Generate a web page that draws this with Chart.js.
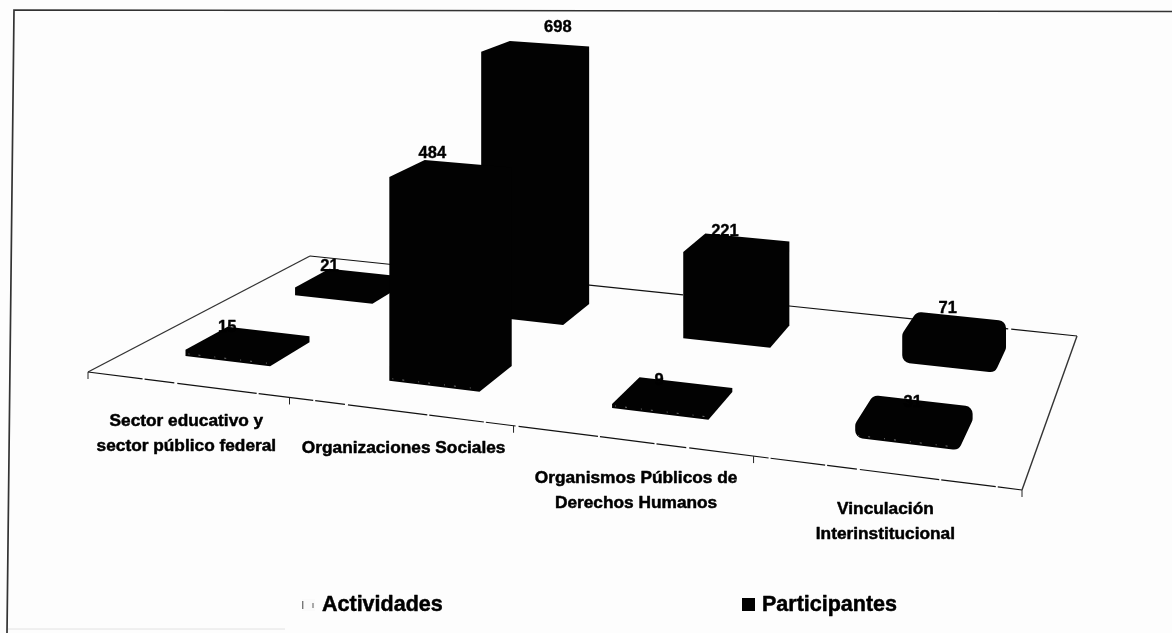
<!DOCTYPE html>
<html lang="es">
<head>
<meta charset="utf-8">
<title>Actividades y Participantes</title>
<script src="https://cdn.jsdelivr.net/npm/chart.js@4"></script>
<style>
html,body{margin:0;padding:0;background:#fdfdfd}
#wrap{position:relative;width:1172px;height:633px}
</style>
</head>
<body>
<div id="wrap"><canvas id="c" width="1172" height="633"></canvas></div>
<script>
const categories = [
  ["Sector educativo y", "sector público federal"],
  ["Organizaciones Sociales"],
  ["Organismos Públicos de", "Derechos Humanos"],
  ["Vinculación", "Interinstitucional"]
];
const seriesNames = ["Actividades", "Participantes"];
const actividades = [15, 484, 9, 31];
const participantes = [21, 698, 221, 71];
const cornerRounding = [0, 0, 0, 8];

const FONT = '"Liberation Sans", Arial, sans-serif';
const INK = "#020202";

// Perspective floor: unit square (u along categories, v in depth) to the page
const Q = [[88, 372], [1022, 490], [1077, 336], [310, 256]];
const H = (() => {
  const [[x0,y0],[x1,y1],[x2,y2],[x3,y3]] = Q;
  const sx = x0-x1+x2-x3, sy = y0-y1+y2-y3;
  const dx1 = x1-x2, dx2 = x3-x2, dy1 = y1-y2, dy2 = y3-y2;
  const det = dx1*dy2 - dx2*dy1;
  const g = (sx*dy2 - dx2*sy)/det, h = (dx1*sy - sx*dy1)/det;
  return {a:x1-x0+g*x1, b:x3-x0+h*x3, c:x0, d:y1-y0+g*y1, e:y3-y0+h*y3, f:y0, g, h};
})();
function floorPt(u, v) {
  const w = H.g*u + H.h*v + 1;
  return {x:(H.a*u + H.b*v + H.c)/w, y:(H.d*u + H.e*v + H.f)/w, w};
}
const TICK_SHIFT = -0.01;
const COLUMN_SHIFT = [-0.005, -0.009, -0.007, 0];
const ROWS = [[0.165, 0.345], [0.665, 0.845]];
const LABEL_NUDGE = [
  [[-21,-16],[-19,-19],[-14,-16],[-2,-13]],
  [[-21,-16],[22,-22],[-12,-15],[-7,-19]]
];

function boldText(ctx, t, x, y, w) {
  ctx.lineWidth = w; ctx.strokeStyle = "#000"; ctx.lineJoin = "round";
  ctx.strokeText(t, x, y);
  ctx.fillText(t, x, y);
}

function roundedPoly(ctx, pts, r) {
  const n = pts.length;
  ctx.beginPath();
  const s = {x:(pts[n-1].x+pts[0].x)/2, y:(pts[n-1].y+pts[0].y)/2};
  ctx.moveTo(s.x, s.y);
  for (let i = 0; i < n; i++) {
    const p = pts[i], q = pts[(i+1)%n];
    if (r > 0) { ctx.arcTo(p.x, p.y, q.x, q.y, r); } else { ctx.lineTo(p.x, p.y); }
  }
  ctx.closePath();
}

const scene3d = {
  id: "scene3d",
  beforeDatasetsDraw(chart) {
    const {ctx} = chart;
    const xs = chart.scales.x, area = chart.chartArea;
    ctx.save();
    // page frame
    ctx.strokeStyle = "#333"; ctx.lineWidth = 1.7;
    ctx.beginPath(); ctx.moveTo(1172, 11.5); ctx.lineTo(14, 10); ctx.lineTo(7, 633); ctx.stroke();
    ctx.strokeStyle = "#e2e2e2"; ctx.lineWidth = 1;
    ctx.beginPath(); ctx.moveTo(8, 629); ctx.lineTo(285, 629); ctx.stroke();
    // floor
    const A = floorPt(0,0), B = floorPt(1,0), C = floorPt(1,1), D = floorPt(0,1);
    ctx.strokeStyle = "#111"; ctx.lineWidth = 1.2;
    ctx.setLineDash([140,2,90,3]);
    ctx.beginPath(); ctx.moveTo(D.x,D.y); ctx.lineTo(C.x,C.y); ctx.stroke();
    ctx.setLineDash([55,2,30,3,80,2]);
    ctx.beginPath(); ctx.moveTo(A.x,A.y); ctx.lineTo(B.x,B.y); ctx.stroke();
    ctx.setLineDash([]);
    ctx.strokeStyle = "#333"; ctx.lineWidth = 1.4;
    ctx.beginPath(); ctx.moveTo(A.x,A.y); ctx.lineTo(D.x,D.y); ctx.stroke();
    ctx.beginPath(); ctx.moveTo(B.x,B.y); ctx.lineTo(C.x,C.y); ctx.stroke();
    // category ticks on the front edge
    ctx.strokeStyle = "#222"; ctx.lineWidth = 1;
    const n = categories.length;
    for (let i = 0; i <= n; i++) {
      const u = i === 0 || i === n ? i/n : i/n + TICK_SHIFT;
      const p = floorPt(u, 0);
      ctx.beginPath(); ctx.moveTo(p.x, p.y); ctx.lineTo(p.x, p.y + 7); ctx.stroke();
    }
    // category labels hang below the front edge
    ctx.fillStyle = "#000"; ctx.font = "bold 17.3px " + FONT;
    ctx.textAlign = "center"; ctx.textBaseline = "middle";
    xs.getLabels().forEach((lab, i) => {
      const u = (xs.getPixelForValue(i) - area.left)/area.width;
      const p = floorPt(u, 0);
      [].concat(lab).forEach((t, k) => boldText(ctx, t, p.x - 5, p.y + 36 + 25*k, 0.5));
    });
    ctx.restore();
  },
  beforeDatasetDraw(chart, args) {
    const {ctx} = chart;
    const ys = chart.scales.y, area = chart.chartArea;
    const [v0, v1] = ROWS[args.index];
    const zero = ys.getPixelForValue(0);
    ctx.save();
    args.meta.data.forEach((el, i) => {
      const val = chart.data.datasets[args.index].data[i];
      const uc = (el.x - area.left)/area.width + COLUMN_SHIFT[i];
      const hw = el.width/area.width/2;
      const rise = (u, v) => {
        const p = floorPt(u, v);
        return {x:p.x, y:p.y, top:p.y - (zero - ys.getPixelForValue(val))/p.w};
      };
      const fl = rise(uc-hw, v0), fr = rise(uc+hw, v0), br = rise(uc+hw, v1), bl = rise(uc-hw, v1);
      const hull = [
        {x:fl.x, y:fl.y}, {x:fr.x, y:fr.y}, {x:br.x, y:br.y},
        {x:br.x, y:br.top}, {x:bl.x, y:bl.top}, {x:fl.x, y:fl.top}
      ];
      ctx.fillStyle = chart.data.datasets[args.index].backgroundColor;
      roundedPoly(ctx, hull, cornerRounding[i]);
      ctx.fill();
      // worn scan speckle along the base of the front row
      if (args.index === 0) {
        ctx.strokeStyle = "#8a8a8a"; ctx.lineWidth = 0.8;
        ctx.setLineDash([1,9,2,14]);
        ctx.beginPath();
        ctx.moveTo(fl.x + 3, fl.y - 2); ctx.lineTo(fr.x - 2, fr.y - 3);
        ctx.stroke();
        ctx.setLineDash([]);
      }
      // value label
      const c = floorPt(uc, (v0+v1)/2);
      const topY = c.y - (zero - ys.getPixelForValue(val))/c.w;
      const nudge = LABEL_NUDGE[args.index][i];
      ctx.fillStyle = "#000"; ctx.font = "bold 16.5px " + FONT;
      ctx.textAlign = "center"; ctx.textBaseline = "middle";
      boldText(ctx, String(val), c.x + nudge[0], topY + nudge[1], 0.4);
    });
    ctx.restore();
    return false;
  },
  afterDraw(chart) {
    // legend
    const {ctx} = chart;
    ctx.save();
    ctx.font = "bold 21.5px " + FONT;
    ctx.textAlign = "left"; ctx.textBaseline = "middle";
    ctx.fillStyle = "#000";
    boldText(ctx, seriesNames[0], 322, 605, 0.5);
    boldText(ctx, seriesNames[1], 762, 605, 0.5);
    ctx.fillStyle = "#fafafa"; ctx.fillRect(302, 599, 13, 12);
    ctx.fillStyle = "#777"; ctx.fillRect(302, 601, 1.4, 8);
    ctx.fillStyle = "#aaa"; ctx.fillRect(312, 603, 2, 5);
    ctx.fillStyle = INK; ctx.fillRect(742, 598, 13, 13);
    ctx.restore();
  }
};

new Chart(document.getElementById("c"), {
  type: "bar",
  data: {
    labels: categories,
    datasets: [
      {label: seriesNames[0], data: actividades, backgroundColor: INK, grouped: false},
      {label: seriesNames[1], data: participantes, backgroundColor: INK, grouped: false}
    ]
  },
  options: {
    responsive: false,
    animation: false,
    events: [],
    layout: {padding: {top: 100, bottom: 113, left: 0, right: 0}},
    categoryPercentage: 0.8,
    barPercentage: 0.52,
    scales: {
      x: {display: false, type: "category"},
      y: {display: false, min: 0, max: 1000}
    },
    plugins: {legend: {display: false}, tooltip: {enabled: false}, title: {display: false}}
  },
  plugins: [scene3d]
});
</script>
</body>
</html>
